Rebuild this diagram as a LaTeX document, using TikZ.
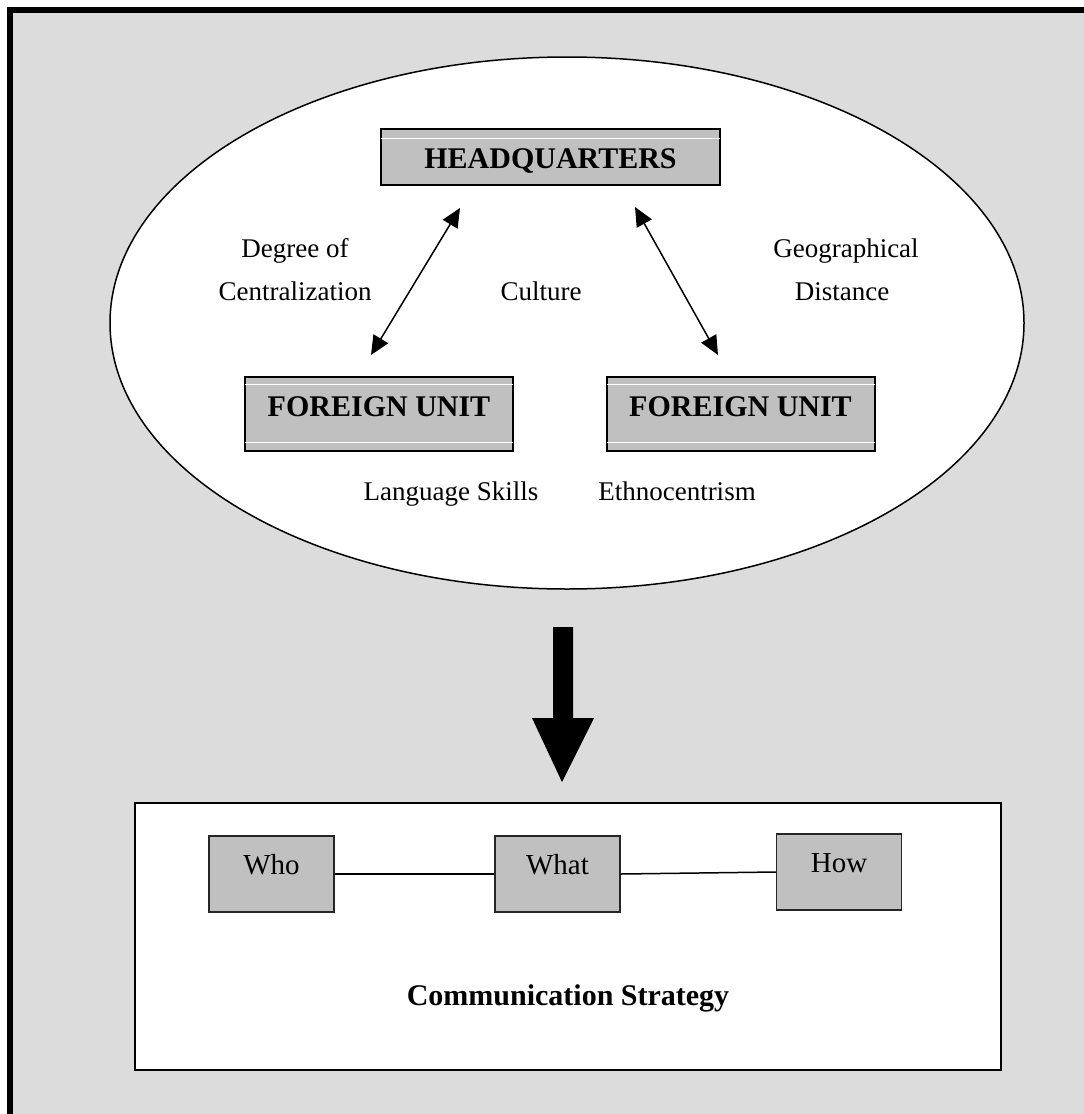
\documentclass[tikz,border=0pt]{standalone}
\usepackage{fontspec}
\setmainfont{Liberation Serif}
\usetikzlibrary{shapes.geometric,arrows.meta}
\definecolor{panel}{RGB}{220,220,220}
\definecolor{boxgray}{RGB}{192,192,192}

\begin{document}
\begin{tikzpicture}[x=1pt,y=-1pt,
  lbl/.style={font=\fontsize{27}{32}\selectfont, anchor=base, inner sep=0pt},
  boxlbl/.style={font=\fontsize{29}{34}\selectfont, anchor=base, inner sep=0pt},
  boldlbl/.style={font=\fontsize{30}{36}\selectfont\bfseries, anchor=base, inner sep=0pt},
  unitbox/.style={draw=black, line width=2pt, fill=boxgray, inner sep=0pt},
  smallbox/.style={draw=black!85, line width=1.5pt, fill=boxgray, inner sep=0pt,
    minimum width=125pt, minimum height=76pt},
  link/.style={line width=1.5pt, {Triangle[length=19pt,width=17pt]}-{Triangle[length=19pt,width=17pt]}},
  rule/.style={line width=1.5pt},
  highlight/.style={white, line width=1pt}]

\useasboundingbox (0,0) rectangle (1084,1114);
\clip (0,0) rectangle (1084,1114);

% page panel with heavy frame on the top and left
\fill[panel] (13,13) rectangle (1090,1120);
\draw[line width=6pt] (10,1120) -- (10,10) -- (1090,10);

% environment ellipse
\node[ellipse, draw=black, line width=1.5pt, fill=white, inner sep=0pt,
      minimum width=914pt, minimum height=532pt] (env) at (567,323) {};

% headquarters and units
\node[unitbox, minimum width=339pt, minimum height=56pt] (hq) at (550.5,157) {};
\draw[highlight] ([xshift=1pt,yshift=-10pt]hq.north west) -- ([xshift=-1pt,yshift=-10pt]hq.north east);
\node[boldlbl] at (550.5,168) {HEADQUARTERS};

\node[unitbox, minimum width=268pt, minimum height=74pt] (fu1) at (379,414) {};
\node[unitbox, minimum width=268pt, minimum height=74pt] (fu2) at (740.5,414) {};
\foreach \u in {fu1,fu2}{
  \draw[highlight] ([xshift=1pt,yshift=-8pt]\u.north west) -- ([xshift=-1pt,yshift=-8pt]\u.north east);
  \draw[highlight] ([xshift=1pt,yshift=10pt]\u.south west) -- ([xshift=-1pt,yshift=10pt]\u.south east);
}
\node[boldlbl] at (379,416) {FOREIGN UNIT};
\node[boldlbl] at (740.5,416) {FOREIGN UNIT};

% two-way links
\coordinate (l1a) at (460,208);
\coordinate (l1b) at (371,355);
\coordinate (l2a) at (635,207);
\coordinate (l2b) at (718,355);
\draw[link] (l1a) -- (l1b);
\draw[link] (l2a) -- (l2b);

% factors
\node[lbl] (t1) at (295,257) {Degree of};
\node[lbl] (t2) at (295,300) {Centralization};
\node[lbl] (t3) at (541,300) {Culture};
\node[lbl] (t4) at (846,257) {Geographical};
\node[lbl] (t5) at (842,300) {Distance};
\node[lbl] (t6) at (451,500) {Language Skills};
\node[lbl] (t7) at (677,500) {Ethnocentrism};

% block arrow down to the strategy
\fill (553,627) -- (573,627) -- (573,718) -- (594,718) -- (562,782) -- (532,718) -- (553,718) -- cycle;

% strategy box
\node[draw=black, line width=2pt, fill=white, inner sep=0pt,
      minimum width=866pt, minimum height=267pt] (strat) at (568,936.5) {};
\node[smallbox] (who) at (271.5,874) {};
\node[smallbox] (what) at (557.5,874) {};
\node[smallbox] (how) at (839,872) {};
\node[boxlbl] at (271.5,874) {Who};
\node[boxlbl] at (557.5,874) {What};
\node[boxlbl] at (839,872) {How};
\draw[rule] (who.east) -- (what.west);
\draw[rule] (what.east) -- (how.west);
\node[boldlbl] (title) at (568,1005) {Communication Strategy};

\end{tikzpicture}
\end{document}
